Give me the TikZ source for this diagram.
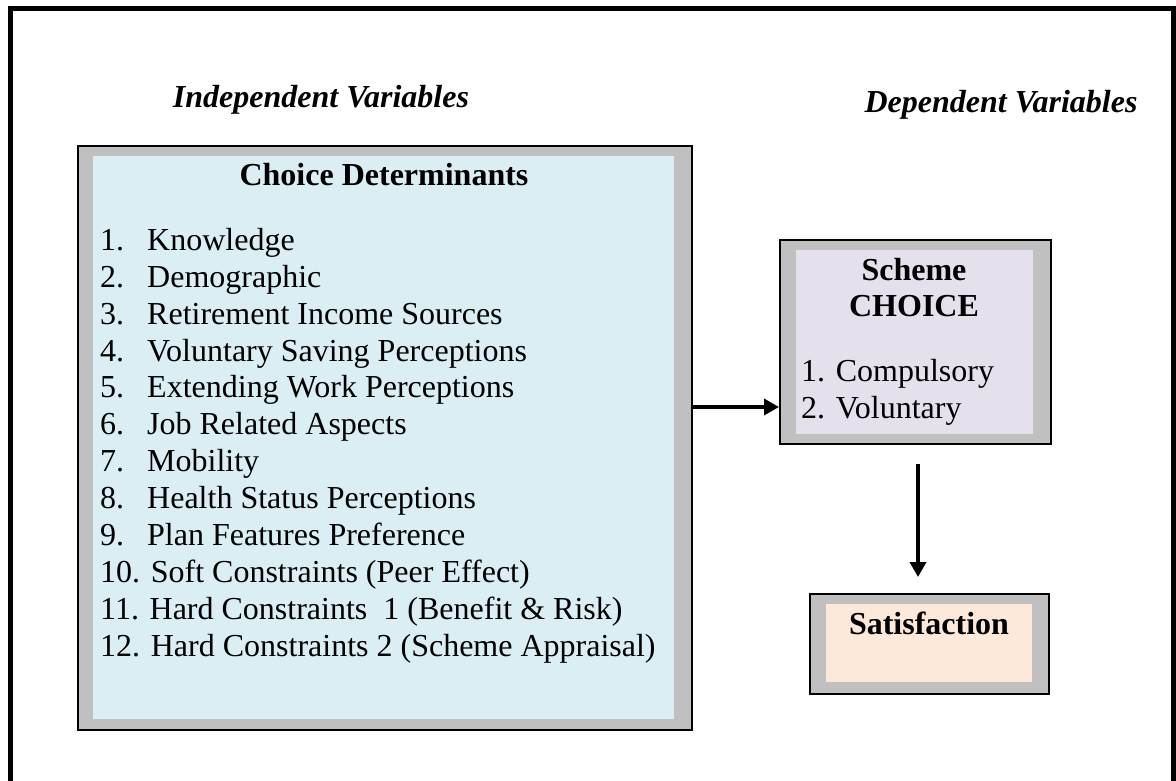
\documentclass[tikz,border=0pt]{standalone}
\usepackage{fontspec}
\setmainfont{Liberation Serif}
\usetikzlibrary{arrows.meta}
\definecolor{gborder}{HTML}{C0C0C0}
\definecolor{detfill}{HTML}{DAEEF3}
\definecolor{chfill}{HTML}{E5E0EC}
\definecolor{satfill}{HTML}{FDE9D9}
\newcommand\myfont{\fontsize{32}{37}\selectfont}
\begin{document}
\begin{tikzpicture}[x=1pt,y=-1pt,
  outerbox/.style={draw=black, line width=2pt, fill=gborder, inner sep=0pt, anchor=north west},
  innerbox/.style={inner sep=0pt, anchor=north west},
  txt/.style={inner sep=0pt, font=\myfont},
  item/.style={txt, anchor=mid west},
  head/.style={txt, font=\myfont\bfseries\itshape},
  arr/.style={line width=3.5pt, -{Triangle[length=15pt,width=16pt]}}]
\useasboundingbox (0,0) rectangle (1176,780);
\draw[line width=5pt] (10.5,8.5) rectangle (1173.5,800);

% headers
\node[head] (indep) at (321,100) {Independent Variables};
\node[head] (dep) at (1001,105) {Dependent Variables};

% determinants box
\node[outerbox, minimum width=614pt, minimum height=584pt] (det) at (77,145) {};
\node[innerbox, fill=detfill, minimum width=581pt, minimum height=563pt] (detin) at (93,156) {};
\node[txt, font=\myfont\bfseries] (dett) at (384,175) {Choice Determinants};
\foreach \n/\t [count=\i] in {1./Knowledge, 2./Demographic, 3./Retirement Income Sources,
  4./Voluntary Saving Perceptions, 5./Extending Work Perceptions, 6./Job Related Aspects,
  7./Mobility, 8./Health Status Perceptions, 9./Plan Features Preference}{
  \node[item] (n\i) at (100,{248+(\i-1)*36.9}) {\n};
  \node[item] (t\i) at (147,{248+(\i-1)*36.9}) {\t};
}
\node[item] (t10) at (100,{248+9*36.9}) {10. Soft Constraints (Peer Effect)};
\node[item] (t11) at (100,{248+10*36.9}) {11. Hard Constraints~~1 (Benefit \& Risk)};
\node[item] (t12) at (100,{248+11*36.9}) {12. Hard Constraints 2 (Scheme Appraisal)};

% choice box
\node[outerbox, minimum width=271pt, minimum height=204pt] (choice) at (779,239) {};
\node[innerbox, fill=chfill, minimum width=237pt, minimum height=184pt] (choicein) at (796,250) {};
\node[txt, font=\myfont\bfseries] (ch1) at (914,270) {Scheme};
\node[txt, font=\myfont\bfseries] (ch2) at (914,306) {CHOICE};
\node[item] (c1) at (801,379) {1. Compulsory};
\node[item] (c2) at (801,416) {2. Voluntary};

% satisfaction box
\node[outerbox, minimum width=239pt, minimum height=100pt] (sat) at (809,593) {};
\node[innerbox, fill=satfill, minimum width=206pt, minimum height=78pt] (satin) at (826,604) {};
\node[txt, font=\myfont\bfseries] (satt) at (929,623) {Satisfaction};

% connectors
\coordinate (hy) at (0,407);
\draw[arr] (det.east |- hy) -- (choice.west |- hy);
\draw[arr] ([xshift=2.5pt,yshift=-19pt]choice.south) -- ([xshift=-11.5pt,yshift=16pt]sat.north);
\end{tikzpicture}
\end{document}
